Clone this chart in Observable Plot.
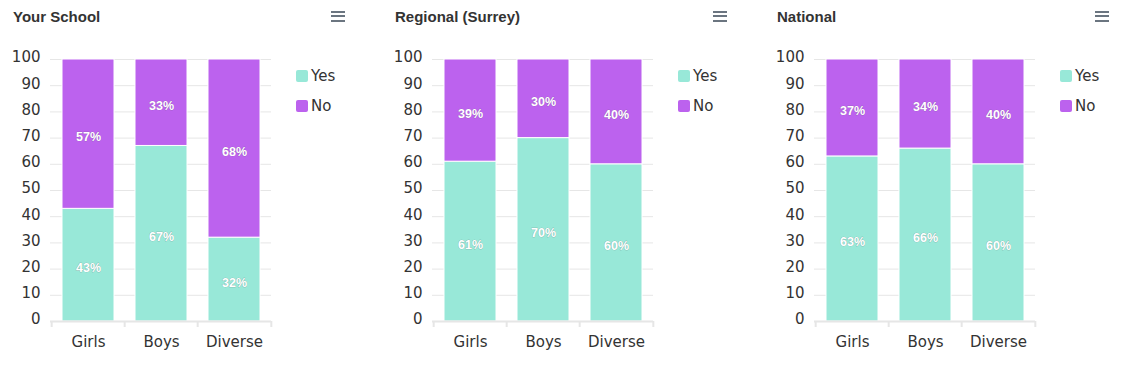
<!DOCTYPE html>
<html><head><meta charset="utf-8">
<script src="https://cdn.jsdelivr.net/npm/d3@7"></script>
<script src="https://cdn.jsdelivr.net/npm/@observablehq/plot@0.6"></script>
<style>
body{margin:0;background:#fff;width:1128px;height:369px;overflow:hidden;position:relative;font-family:"DejaVu Sans",sans-serif}
.panel{position:absolute;top:0;width:382px;height:369px}
.title{position:absolute;left:13px;top:8px;font:bold 15px "Liberation Sans",Arial,sans-serif;color:#333}
.menu{position:absolute;left:331px;top:11px;width:14px}
.menu div{height:2px;background:#6b7580;margin-bottom:2.3px}
.legend{position:absolute;left:296px;top:67px;font-size:15px;color:#333}
.item{display:flex;align-items:center;height:17px;margin-bottom:13px}
.sw{width:12px;height:12px;border-radius:2px;margin-right:3px}
.panel svg{position:absolute;left:0;top:0}
</style></head>
<body>
<script>
const panelTitles = ["Your School", "Regional (Surrey)", "National"];
const categories = ["Girls", "Boys", "Diverse"];
const answers = ["Yes", "No"];
const yesSchool = [43, 67, 32];
const noSchool = [57, 33, 68];
const yesRegional = [61, 70, 60];
const noRegional = [39, 30, 40];
const yesNational = [63, 66, 60];
const noNational = [37, 34, 40];
const yTicks = [0, 10, 20, 30, 40, 50, 60, 70, 80, 90, 100];
const colors = ["#98E8D8", "#BC62EE"];

const series = [[yesSchool, noSchool], [yesRegional, noRegional], [yesNational, noNational]];
const W = 290, ML = 50, MR = 19;
const step = (W - ML - MR) / categories.length;

series.forEach(([yes, no], p) => {
  const rows = [];
  categories.forEach((c, i) => {
    rows.push({cat: c, answer: "Yes", value: yes[i], lo: 0, hi: yes[i]});
    rows.push({cat: c, answer: "No", value: no[i], lo: yes[i], hi: yes[i] + no[i]});
  });
  const panel = document.createElement("div");
  panel.className = "panel";
  panel.style.left = (p * 382) + "px";
  const chart = Plot.plot({
    width: W, height: 369, marginLeft: ML, marginRight: MR, marginTop: 59, marginBottom: 48,
    x: {domain: categories, paddingInner: 0.29, paddingOuter: 0.145, label: null},
    y: {domain: [0, 100], ticks: yTicks, label: null},
    color: {domain: answers, range: colors},
    style: {fontFamily: "'DejaVu Sans'", fontSize: "15px", color: "#333", background: "transparent", overflow: "visible"},
    marks: [
      Plot.ruleY(yTicks, {stroke: "#e6e6e6", strokeWidth: 1}),
      Plot.barY(rows, {x: "cat", y1: "lo", y2: "hi", fill: "answer", stroke: "#fff", strokeWidth: 1}),
      Plot.text(rows, {x: "cat", y: d => (d.lo + d.hi) / 2, dy: 3, text: d => d.value + "%", fill: "#fff",
        stroke: "#555", strokeWidth: 0.5, strokeOpacity: 0.5, paintOrder: "stroke",
        fontWeight: "bold", fontSize: 12.5, fontFamily: "'Liberation Sans', Arial, sans-serif"}),
      Plot.axisY({ticks: yTicks, tickSize: 0, tickPadding: 10, dy: -2}),
      Plot.axisX({tickSize: 0, tickPadding: 15}),
      Plot.ruleY([0], {stroke: "#e6e6e6", strokeWidth: 2}),
      Plot.ruleX(categories, {x: d => d, dx: -step / 2, y1: 0, y2: 0, insetBottom: -6, stroke: "#e6e6e6", strokeWidth: 2}),
      Plot.ruleX(categories.slice(-1), {x: d => d, dx: step / 2, y1: 0, y2: 0, insetBottom: -6, stroke: "#e6e6e6", strokeWidth: 2})
    ]
  });
  panel.appendChild(chart);
  const t = document.createElement("div");
  t.className = "title"; t.textContent = panelTitles[p];
  panel.appendChild(t);
  const m = document.createElement("div");
  m.className = "menu"; m.innerHTML = "<div></div><div></div><div></div>";
  panel.appendChild(m);
  const lg = document.createElement("div");
  lg.className = "legend";
  answers.forEach((a, i) => {
    const it = document.createElement("div");
    it.className = "item";
    it.innerHTML = `<span class="sw" style="background:${colors[i]}"></span><span>${a}</span>`;
    lg.appendChild(it);
  });
  panel.appendChild(lg);
  document.body.appendChild(panel);
});
</script>
</body></html>
